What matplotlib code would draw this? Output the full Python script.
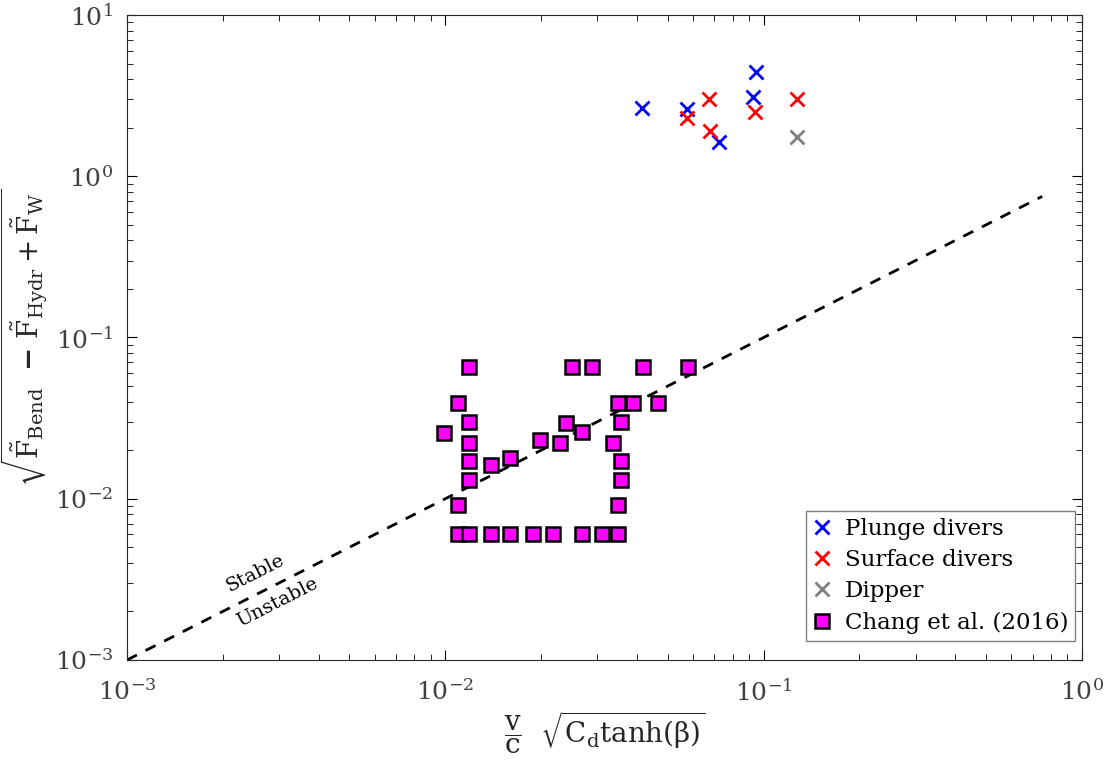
import numpy as np
import matplotlib
matplotlib.use('Agg')
import matplotlib.pyplot as plt

plt.rcParams['font.family'] = ['DejaVu Serif']
plt.rcParams['mathtext.fontset'] = 'dejavuserif'

# plunge divers
plunge_x = [0.0414, 0.0573, 0.0726, 0.0929, 0.0944]
plunge_y = [2.64, 2.61, 1.64, 3.12, 4.46]
# surface divers
surface_x = [0.0576, 0.0674, 0.0677, 0.0937, 0.1277]
surface_y = [2.29, 3.01, 1.91, 2.52, 3.01]
# dipper
dipper_x = [0.1277]
dipper_y = [1.76]
# Chang et al. (2016)
chang_x = [0.0119, 0.02495, 0.02884, 0.0419, 0.0580,
           0.01094, 0.0348, 0.0390, 0.0467,
           0.0119, 0.0356,
           0.00993, 0.0239, 0.0268, 0.0199,
           0.0119, 0.0229, 0.0337,
           0.01595, 0.0119, 0.0356, 0.01392,
           0.0119, 0.0356,
           0.01094, 0.0348,
           0.01094, 0.0119, 0.01392, 0.01595, 0.0189, 0.0218, 0.0269, 0.0310, 0.0348]
chang_y = [0.0652, 0.0652, 0.0652, 0.0652, 0.0652,
           0.0392, 0.0392, 0.0392, 0.0392,
           0.0301, 0.0301,
           0.0255, 0.0294, 0.0261, 0.0232,
           0.0221, 0.0221, 0.0221,
           0.0180, 0.0172, 0.0172, 0.0162,
           0.0130, 0.0130,
           0.00912, 0.00912,
           0.00605, 0.00605, 0.00605, 0.00605, 0.00605, 0.00605, 0.00605, 0.00605, 0.00605]
line_x = [1e-3, 0.75]

fig = plt.figure(figsize=(11.16, 7.7), dpi=100)
ax = fig.add_axes([0.1138, 0.1429, 0.8557, 0.8376])

ax.plot(line_x, line_x, 'k--', lw=2, dashes=(4, 3.5))
ax.plot(plunge_x, plunge_y, 'x', color='#0000ff', ms=10, mew=2, label='Plunge divers')
ax.plot(surface_x, surface_y, 'x', color='#ff0000', ms=10, mew=2, label='Surface divers')
ax.plot(dipper_x, dipper_y, 'x', color='#808080', ms=10, mew=2, label='Dipper')
ax.plot(chang_x, chang_y, 's', mfc='#ff00ff', mec='k', ms=10, mew=1.8, label='Chang et al. (2016)')

ax.set_xscale('log')
ax.set_yscale('log')
ax.set_xlim(1e-3, 1)
ax.set_ylim(1e-3, 10)

ax.text(0.00252, 0.00346, 'Stable', rotation=27, fontsize=14, ha='center', va='center')
ax.text(0.00296, 0.00229, 'Unstable', rotation=27, fontsize=14, ha='center', va='center')

ax.tick_params(which='both', direction='in', top=True, right=True, labelsize=18, labelcolor='#404040')
ax.tick_params(axis='x', pad=14)
ax.tick_params(axis='y', pad=10)
ax.tick_params(which='major', length=7)
ax.tick_params(which='minor', length=4)
for s in ax.spines.values():
    s.set_color('#262626')

ax.set_xlabel(r'$\dfrac{\mathrm{v}}{\mathrm{c}}\ \ \sqrt{\mathrm{C_d tanh(\beta)}}$', fontsize=20,
              color='#262626', labelpad=2)
ax.set_ylabel(r'$\sqrt{\tilde{\mathrm{F}}_{\mathrm{Bend}}\ \ \mathbf{-}\ \tilde{\mathrm{F}}_{\mathrm{Hydr}}+\tilde{\mathrm{F}}_{\mathrm{W}}}$',
              fontsize=20, color='#262626')

leg = ax.legend(loc='lower right', bbox_to_anchor=(0.993, 0.03), fontsize=16.5, fancybox=False,
                edgecolor='#808080', framealpha=1, handlelength=0.8, handletextpad=0.6,
                borderpad=0.3, labelspacing=0.4, borderaxespad=0)
leg.get_frame().set_linewidth(1)

fig.savefig('out.png', dpi=100)
